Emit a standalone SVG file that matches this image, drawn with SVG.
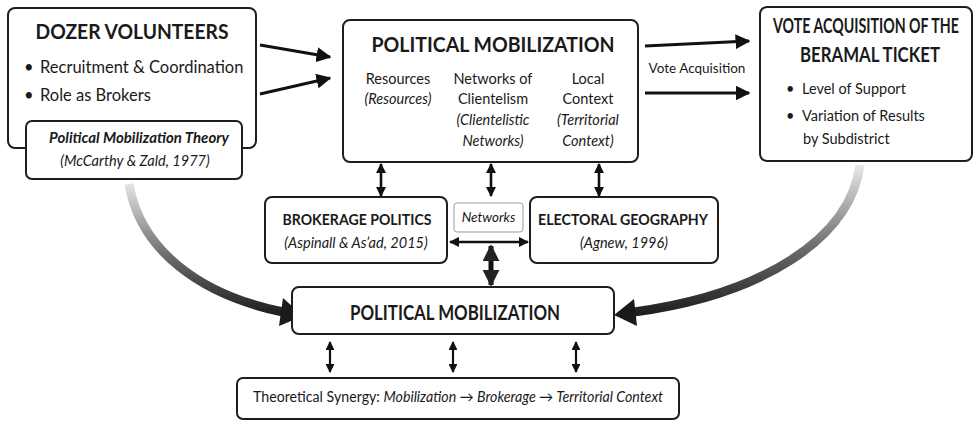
<svg xmlns="http://www.w3.org/2000/svg" width="977" height="421" viewBox="0 0 977 421">
  <defs>
    <style>
      text { font-family: Lato, "Open Sans", "Liberation Sans", sans-serif; fill: #1a1a1a; }
      .box { fill: #ffffff; stroke: #1e1e1e; stroke-width: 2; }
      .title { font-weight: 700; font-size: 20px; text-anchor: middle; }
      .sub { font-weight: 700; font-size: 16px; text-anchor: middle; }
      .body { font-size: 14.5px; }
      .mid { text-anchor: middle; }
      .it { font-style: italic; }
      .conn { stroke: #111; fill: none; }
    </style>
    <marker id="ah" viewBox="0 0 10 10" refX="9" refY="5" markerWidth="5" markerHeight="5" markerUnits="strokeWidth" orient="auto-start-reverse">
      <path d="M0,0 L10,5 L0,10 Z" fill="#111"/>
    </marker>
    <marker id="ahs" viewBox="0 0 10 10" refX="9" refY="5" markerWidth="4" markerHeight="4" markerUnits="strokeWidth" orient="auto-start-reverse">
      <path d="M0,0 L10,5 L0,10 Z" fill="#111"/>
    </marker>
    <marker id="ahb" viewBox="0 0 10 10" refX="9" refY="5" markerWidth="3.4" markerHeight="3.4" markerUnits="strokeWidth" orient="auto-start-reverse">
      <path d="M0,0 L10,5 L0,10 Z" fill="#222"/>
    </marker>
    <linearGradient id="gl" gradientUnits="userSpaceOnUse" x1="0" y1="184" x2="0" y2="318">
      <stop offset="0" stop-color="#e4e4e4"/>
      <stop offset="0.55" stop-color="#6a6a6a"/>
      <stop offset="1" stop-color="#1a1a1a"/>
    </linearGradient>
    <linearGradient id="gr" gradientUnits="userSpaceOnUse" x1="0" y1="165" x2="0" y2="318">
      <stop offset="0" stop-color="#e8e8e8"/>
      <stop offset="0.55" stop-color="#6a6a6a"/>
      <stop offset="1" stop-color="#1a1a1a"/>
    </linearGradient>
  </defs>

  <rect width="977" height="421" fill="#ffffff"/>

  <!-- connectors -->
  <g id="connectors">
    <!-- into the mobilization box -->
    <path class="conn" stroke-width="3" marker-end="url(#ah)" d="M260 45 L330 57"/>
    <path class="conn" stroke-width="3" marker-end="url(#ah)" d="M260 94 L330 78"/>
    <!-- vote acquisition -->
    <path class="conn" stroke-width="3" marker-end="url(#ah)" d="M645 46 L749 41"/>
    <path class="conn" stroke-width="3" marker-end="url(#ah)" d="M645 93 L749 93"/>
    <!-- top box to theory boxes -->
    <path class="conn" stroke-width="2.6" marker-start="url(#ahs)" marker-end="url(#ahs)" d="M381 164 L381 196"/>
    <path class="conn" stroke-width="2.6" marker-start="url(#ahs)" marker-end="url(#ahs)" d="M491 164 L491 196"/>
    <path class="conn" stroke-width="2.6" marker-start="url(#ahs)" marker-end="url(#ahs)" d="M599 164 L599 196"/>
    <!-- networks link -->
    <path class="conn" stroke-width="2.6" marker-start="url(#ahs)" marker-end="url(#ahs)" d="M450 242 L528 242"/>
    <path class="conn" stroke="#222" stroke-width="5" marker-start="url(#ahb)" marker-end="url(#ahb)" d="M491 246 L491 285"/>
    <!-- bottom box to synergy -->
    <path class="conn" stroke-width="2.2" marker-start="url(#ahs)" marker-end="url(#ahs)" d="M330 342 L330 372"/>
    <path class="conn" stroke-width="2.2" marker-start="url(#ahs)" marker-end="url(#ahs)" d="M453 342 L453 372"/>
    <path class="conn" stroke-width="2.2" marker-start="url(#ahs)" marker-end="url(#ahs)" d="M576 342 L576 372"/>
    <!-- sweeping arrows -->
    <path fill="none" stroke="url(#gl)" stroke-width="9" d="M129 184 C140 250 200 295 283 312"/>
    <polygon fill="#1a1a1a" points="303,316 283,298 279,326"/>
    <path fill="none" stroke="url(#gr)" stroke-width="9" d="M860 165 C850 240 760 295 634 312"/>
    <polygon fill="#1a1a1a" points="614,315 634,299 637,326"/>
  </g>

  <!-- Dozer volunteers -->
  <g id="dozer">
    <rect class="box" x="8" y="8" width="248" height="140" rx="7"/>
    <text class="title" x="132" y="39" textLength="193" lengthAdjust="spacingAndGlyphs">DOZER VOLUNTEERS</text>
    <text x="24" y="73" font-size="16.5">•</text>
    <text x="40" y="73" font-size="16.5">Recruitment &amp; Coordination</text>
    <text x="24" y="101" font-size="16.5">•</text>
    <text x="40" y="101" font-size="16.5">Role as Brokers</text>
  </g>
  <g id="theory">
    <rect class="box" x="26" y="121" width="216" height="58" rx="6"/>
    <text class="mid it" x="139" y="143" font-size="15" font-weight="700">Political Mobilization Theory</text>
    <text class="body mid it" x="135" y="166">(McCarthy &amp; Zald, 1977)</text>
  </g>

  <!-- Political mobilization (top) -->
  <g id="mobilization-top">
    <rect class="box" x="343" y="20" width="295" height="142" rx="7"/>
    <text class="title" x="493" y="52" textLength="243" lengthAdjust="spacingAndGlyphs">POLITICAL MOBILIZATION</text>
    <text class="body mid" x="398" y="84">Resources</text>
    <text class="body mid it" x="398" y="104">(Resources)</text>
    <text class="body mid" x="493" y="84">Networks of</text>
    <text class="body mid" x="493" y="104">Clientelism</text>
    <text class="body mid it" x="493" y="125">(Clientelistic</text>
    <text class="body mid it" x="493" y="146">Networks)</text>
    <text class="body mid" x="588" y="84">Local</text>
    <text class="body mid" x="588" y="104">Context</text>
    <text class="body mid it" x="588" y="125">(Territorial</text>
    <text class="body mid it" x="588" y="146">Context)</text>
  </g>

  <text id="vote-label" class="mid" x="697" y="73" font-size="13.5">Vote Acquisition</text>

  <!-- Vote acquisition -->
  <g id="vote">
    <rect class="box" x="760" y="7" width="212" height="154" rx="7"/>
    <text class="title" x="866" y="33" font-size="19" textLength="186" lengthAdjust="spacingAndGlyphs">VOTE ACQUISITION OF THE</text>
    <text class="title" x="870" y="62" font-size="19" textLength="140" lengthAdjust="spacingAndGlyphs">BERAMAL TICKET</text>
    <text class="body" x="786" y="94">•</text>
    <text class="body" x="802" y="94">Level of Support</text>
    <text class="body" x="786" y="121">•</text>
    <text class="body" x="802" y="121">Variation of Results</text>
    <text class="body" x="803" y="144">by Subdistrict</text>
  </g>

  <!-- Brokerage politics -->
  <g id="brokerage">
    <rect class="box" x="265" y="197" width="182" height="66" rx="7"/>
    <text class="sub" x="357" y="225" textLength="149" lengthAdjust="spacingAndGlyphs">BROKERAGE POLITICS</text>
    <text class="body mid it" x="356" y="248">(Aspinall &amp; As’ad, 2015)</text>
  </g>

  <g id="networks">
    <rect x="454" y="203" width="69" height="29" rx="3" fill="#ffffff" stroke="#9a9a9a" stroke-width="1"/>
    <text class="mid it" x="488.5" y="222" font-size="13.5">Networks</text>
  </g>

  <!-- Electoral geography -->
  <g id="electoral">
    <rect class="box" x="530" y="197" width="188" height="66" rx="7"/>
    <text class="sub" x="623" y="225" textLength="170" lengthAdjust="spacingAndGlyphs">ELECTORAL GEOGRAPHY</text>
    <text class="body mid it" x="624" y="248">(Agnew, 1996)</text>
  </g>

  <!-- Political mobilization (bottom) -->
  <g id="mobilization-bottom">
    <rect class="box" x="292" y="287" width="322" height="47" rx="7"/>
    <text class="title" x="455" y="320" font-size="18" textLength="210" lengthAdjust="spacingAndGlyphs">POLITICAL MOBILIZATION</text>
  </g>

  <!-- Synergy -->
  <g id="synergy">
    <rect class="box" x="237" y="378" width="442" height="41" rx="6"/>
    <text class="mid" x="458" y="402" font-size="14.6" textLength="410" lengthAdjust="spacingAndGlyphs">Theoretical Synergy: <tspan font-style="italic">Mobilization → Brokerage → Territorial Context</tspan></text>
  </g>
</svg>
